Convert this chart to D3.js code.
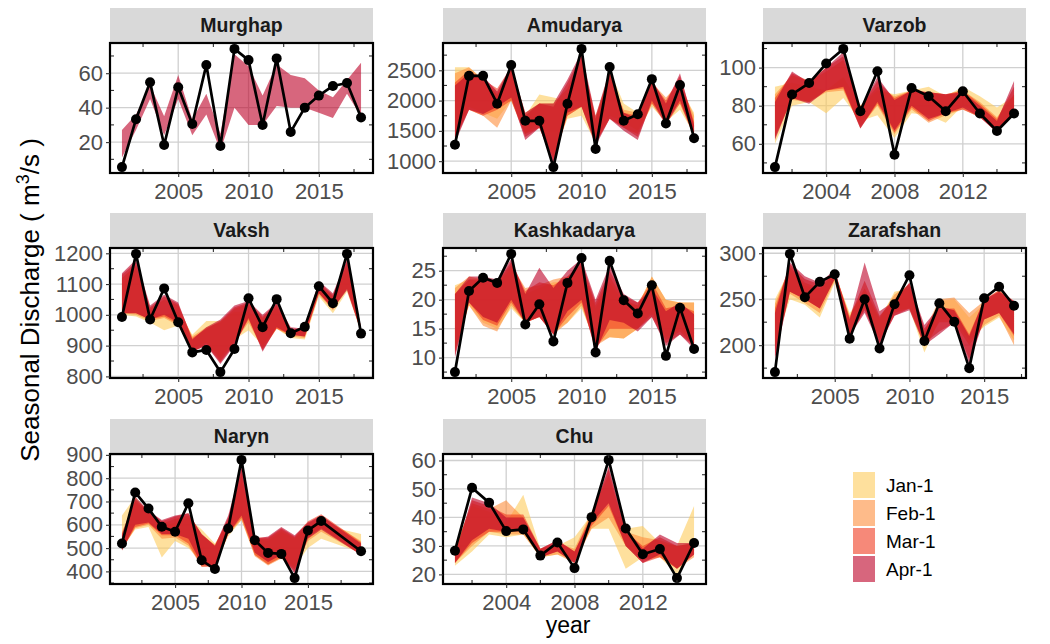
<!DOCTYPE html>
<html>
<head>
<meta charset="utf-8">
<script src="https://cdn.jsdelivr.net/npm/d3@7"></script>
<style>
  body { margin: 0; background: #fff; }
  svg { display: block; font-family: "Liberation Sans", Arial, sans-serif; }
</style>
</head>
<body>
<div id="chart"></div>
<script>
// data
var rivers = ["Murghap", "Amudarya", "Varzob", "Vaksh", "Kashkadarya", "Zarafshan", "Naryn", "Chu"];
var forecastDates = ["Jan-1", "Feb-1", "Mar-1", "Apr-1"];

var murghapYears = [2001,2002,2003,2004,2005,2006,2007,2008,2009,2010,2011,2012,2013,2014,2015,2016,2017,2018];
var murghapObs = [5.5,33.3,54.7,18.3,51.8,30.5,64.8,17.7,74.1,67.6,29.9,68.6,25.9,40,47,52.6,54.3,34.3];
var murghapApr = [[11,27],[27,36],[45,53],[24,35],[45,59],[24,33],[36,48],[15,25],[40,71],[30,64],[30,47],[41,65],[40,59],[40,57],[37,50],[34,46],[48,56],[35,66]];

var amudaryaYears = [2001,2002,2003,2004,2005,2006,2007,2008,2009,2010,2011,2012,2013,2014,2015,2016,2017,2018];
var amudaryaObs = [1271,2408,2408,1948,2587,1666,1666,902,1948,2853,1200,2555,1666,1775,2354,1623,2257,1379];
var amudaryaJan = [[1500,2550],[1900,2550],[1800,2350],[1700,2100],[2000,2500],[1450,1750],[1650,2100],[1100,2050],[1700,2000],[1750,2600],[1300,1700],[1750,2500],[1650,1950],[1500,1800],[1900,2200],[1650,1950],[1850,2200],[1450,1800]];
var amudaryaFeb = [[1400,2450],[1850,2550],[1750,2350],[1550,2100],[2000,2550],[1450,1800],[1550,1950],[1050,1950],[1750,2200],[1900,2700],[1300,1750],[1700,2450],[1550,1850],[1450,1800],[1950,2300],[1700,2050],[1950,2300],[1450,1750]];
var amudaryaMar = [[1350,2300],[1850,2500],[1750,2350],[1850,2200],[2000,2550],[1400,1750],[1550,1950],[1000,1900],[1750,2300],[1900,2750],[1300,1700],[1700,2450],[1550,1800],[1400,1750],[1950,2300],[1600,2000],[1950,2400],[1400,1650]];
var amudaryaApr = [[1300,2250],[1850,2450],[1780,2400],[1900,2150],[2050,2580],[1350,1800],[1550,1950],[950,1950],[1800,2350],[1900,2800],[1250,1750],[1700,2500],[1500,1800],[1350,1700],[2000,2350],[1600,1950],[2000,2450],[1400,1600]];

var varzobYears = [2001,2002,2003,2004,2005,2006,2007,2008,2009,2010,2011,2012,2013,2014,2015];
var varzobObs = [47.8,85.9,91.9,102.1,109.8,77.1,98.1,54.3,89.3,85,77.1,87.6,75.9,66.7,75.9];
var varzobJan = [[60,90],[80,92],[82,90],[76,88],[84,95],[72,80],[75,88],[63,86],[76,88],[75,90],[71,85],[80,90],[76,85],[68,79],[76,85]];
var varzobFeb = [[64,86],[83,96],[82,93],[87,98],[88,104],[69,80],[80,90],[65,85],[78,88],[71,87],[75,86],[78,88],[74,82],[67,74],[75,86]];
var varzobMar = [[63,84],[84,97],[82,93],[88,100],[89,106],[68,79],[81,93],[66,84],[79,88],[72,87],[76,86],[78,88],[74,81],[66,73],[76,90]];
var varzobApr = [[62,82],[84,98],[81,92],[88,100],[90,108],[68,78],[82,95],[67,83],[80,88],[73,87],[76,86],[79,87],[74,80],[66,72],[76,93]];

var vakshYears = [2001,2002,2003,2004,2005,2006,2007,2008,2009,2010,2011,2012,2013,2014,2015,2016,2017,2018];
var vakshObs = [993,1198,985,1086,976,878,886,814,889,1054,960,1051,940,961,1093,1038,1198,939];
var vakshJan = [[1000,1100],[995,1150],[975,1010],[950,1000],[965,1010],[890,935],[910,980],[860,980],[920,1010],[950,1010],[900,980],[955,1020],[925,950],[920,950],[1060,1090],[1005,1050],[1075,1150],[945,955]];
var vakshFeb = [[1005,1120],[1000,1160],[980,1020],[990,1050],[965,1030],[880,930],[905,960],[850,975],[910,1020],[975,1035],[890,990],[955,1030],[930,955],[925,950],[1065,1100],[1015,1060],[1085,1165],[945,958]];
var vakshMar = [[1005,1130],[1005,1170],[985,1025],[995,1060],[970,1035],[880,925],[900,955],[845,980],[905,1025],[985,1040],[885,995],[955,1035],[935,955],[930,950],[1070,1105],[1020,1065],[1085,1175],[945,958]];
var vakshApr = [[1005,1135],[1005,1180],[985,1030],[1000,1065],[975,1040],[880,920],[900,960],[840,985],[900,1030],[990,1045],[880,1000],[960,1040],[935,960],[930,955],[1070,1110],[1020,1070],[1080,1180],[945,960]];

var kashYears = [2001,2002,2003,2004,2005,2006,2007,2008,2009,2010,2011,2012,2013,2014,2015,2016,2017,2018];
var kashObs = [7.5,21.5,23.8,22.9,27.9,15.7,19.2,12.8,22.9,27.2,10.9,26.7,19.9,17.6,22.5,10.3,18.6,11.5];
var kashJan = [[11.5,22.5],[19,23.5],[16,23],[15,22.5],[18.5,25.5],[16,21],[17,22],[14.5,23],[16,23],[18.5,25.5],[12.5,18.5],[13.5,23],[13.3,19.5],[15,19],[18,24],[13.5,20],[15,19.5],[12.5,19.5]];
var kashFeb = [[11,22],[19,24],[15.5,23.5],[14.5,23],[19,26],[16,22],[17,22.5],[14,23.5],[16,24],[19,26],[12,19],[13.5,24],[13.3,20],[15,19],[17.5,24],[13,20],[14.5,19.5],[12,19.5]];
var kashMar = [[10.5,21],[19.5,23.5],[16.5,23.5],[15.5,23],[19.5,26.5],[16,21.5],[17,23],[14,22.5],[17,24],[19.5,26.5],[11.5,19.5],[15,25],[15,20.5],[15,19.5],[17,23],[12.5,18.5],[14,19],[12,18]];
var kashApr = [[10,21],[19.5,24],[17,24],[16,23.5],[20,27],[16,21],[17,25.5],[14,22],[18,25],[20,27],[11,20],[16.5,26],[16,21],[14.5,19.5],[17,22],[12,18],[14,19.5],[11.5,17.5]];

var zarafYears = [2001,2002,2003,2004,2005,2006,2007,2008,2009,2010,2011,2012,2013,2014,2015,2016,2017];
var zarafObs = [170.7,299.3,252.1,268.9,277.1,207.1,250,196.4,244.6,276.1,204.6,245.7,225.4,175,251,263.6,242.9];
var zarafJan = [[200,250],[250,282],[244,265],[230,260],[268,278],[214,235],[242,258],[208,228],[238,258],[240,262],[192,212],[228,248],[228,250],[205,230],[220,245],[230,258],[205,242]];
var zarafFeb = [[195,245],[256,285],[246,268],[235,262],[270,280],[212,232],[240,262],[205,230],[235,255],[240,266],[198,215],[225,250],[225,252],[200,235],[222,248],[232,260],[200,245]];
var zarafMar = [[188,240],[258,288],[250,272],[240,266],[272,280],[210,230],[238,270],[202,232],[232,250],[240,268],[202,218],[215,240],[224,240],[185,212],[228,250],[235,260],[210,248]];
var zarafApr = [[185,235],[258,290],[250,275],[240,268],[272,282],[210,228],[235,290],[200,237],[232,248],[238,268],[200,222],[212,242],[225,238],[180,210],[228,250],[235,258],[212,248]];

var narynYears = [2001,2002,2003,2004,2005,2006,2007,2008,2009,2010,2011,2012,2013,2014,2015,2016,2019];
var narynObs = [519.6,738.6,669.5,591.6,570,692.5,447.6,410,584.4,878.4,534,479.3,475,371.2,575.8,616,486.5];
var narynJan = [[500,640],[580,720],[590,650],[460,590],[530,610],[500,630],[440,580],[430,520],[550,610],[620,790],[470,540],[430,530],[460,570],[420,540],[500,590],[540,600],[480,560]];
var narynFeb = [[495,570],[585,700],[600,655],[540,605],[545,625],[510,640],[420,555],[425,515],[560,620],[620,820],[465,540],[425,540],[455,580],[410,545],[530,605],[570,635],[475,530]];
var narynMar = [[490,555],[590,710],[605,660],[555,615],[555,635],[520,650],[420,560],[420,510],[560,630],[630,840],[470,545],[430,545],[460,585],[400,550],[545,615],[585,645],[470,525]];
var narynApr = [[490,560],[600,720],[610,660],[560,620],[560,640],[540,650],[430,560],[420,510],[560,640],[640,850],[480,540],[440,550],[470,590],[390,555],[540,610],[580,640],[470,520]];

var chuYears = [2001,2002,2003,2004,2005,2006,2007,2008,2009,2010,2011,2012,2013,2014,2015];
var chuObs = [28.3,50.4,45.2,35.2,35.8,26.6,31.2,22.2,40.1,60.2,36.1,27.1,28.9,18.7,31];
var chuJan = [[23,30],[28,44],[34,42],[33,38],[34,48],[26,29],[27,30],[25,33],[36,41],[36,44],[22,36],[26,37],[26,31],[20,30],[28,44]];
var chuFeb = [[24,29],[30,45],[35,43],[34,46],[34,40],[26,29],[27,31],[24,29],[36,42],[40,55],[30,35],[25,33],[26,32],[22,30],[26,31]];
var chuMar = [[24,28],[31,46],[35,44],[35,41],[35,41],[26,29],[28,32],[24,28],[37,41],[44,57],[30,35],[24,30],[26,33],[22,30],[27,31]];
var chuApr = [[24,27],[32,47],[36,45],[35,40],[36,40],[26,29],[28,32],[24,28],[38,40],[45,58],[30,36],[24,29],[27,34],[22,31],[27,31]];

// tick labels per panel
var xTicksA = [2005, 2010, 2015];
var xTicksB = [2004, 2008, 2012];
var murghapYTicks = [20, 40, 60];
var amudaryaYTicks = [1000, 1500, 2000, 2500];
var varzobYTicks = [60, 80, 100];
var vakshYTicks = [800, 900, 1000, 1100, 1200];
var kashYTicks = [10, 15, 20, 25];
var zarafYTicks = [200, 250, 300];
var narynYTicks = [400, 500, 600, 700, 800, 900];
var chuYTicks = [20, 30, 40, 50, 60];

var panels = [
    { years: murghapYears, obs: murghapObs, bands: [null, null, null, murghapApr], xTicks: xTicksA, yTicks: murghapYTicks },
    { years: amudaryaYears, obs: amudaryaObs, bands: [amudaryaJan, amudaryaFeb, amudaryaMar, amudaryaApr], xTicks: xTicksA, yTicks: amudaryaYTicks },
    { years: varzobYears, obs: varzobObs, bands: [varzobJan, varzobFeb, varzobMar, varzobApr], xTicks: xTicksB, yTicks: varzobYTicks },
    { years: vakshYears, obs: vakshObs, bands: [vakshJan, vakshFeb, vakshMar, vakshApr], xTicks: xTicksA, yTicks: vakshYTicks },
    { years: kashYears, obs: kashObs, bands: [kashJan, kashFeb, kashMar, kashApr], xTicks: xTicksA, yTicks: kashYTicks },
    { years: zarafYears, obs: zarafObs, bands: [zarafJan, zarafFeb, zarafMar, zarafApr], xTicks: xTicksA, yTicks: zarafYTicks },
    { years: narynYears, obs: narynObs, bands: [narynJan, narynFeb, narynMar, narynApr], xTicks: xTicksA, yTicks: narynYTicks },
    { years: chuYears, obs: chuObs, bands: [chuJan, chuFeb, chuMar, chuApr], xTicks: xTicksB, yTicks: chuYTicks }
];

// YlOrRd, drawn with alpha
var bandColors = ["#fecc5c", "#fd8d3c", "#f03b20", "#bd0026"];
var bandAlpha = 0.6;

// layout
var vWidth = 1050, vHeight = 644;
var colX = [110, 443, 763], rowTop = [8, 213, 419];
var pW = 263, pH = 130, stripH = 35;

var svg = d3.select("#chart").append("svg")
    .attr("width", vWidth)
    .attr("height", vHeight);

// expand extent by 5% like ggplot
function expand(aExt) {
    var d = (aExt[1] - aExt[0]) * 0.05;
    return [aExt[0] - d, aExt[1] + d];
}

// midpoints between major breaks, inside the domain
function minorTicks(aTicks, aDomain) {
    var step = aTicks[1] - aTicks[0];
    var out = [aTicks[0] - step / 2];
    aTicks.forEach(function (t) { out.push(t + step / 2); });
    return out.filter(function (t) { return t > aDomain[0] && t < aDomain[1]; });
}

panels.forEach(function (aPanel, i) {
    var px = colX[i % 3], py = rowTop[Math.floor(i / 3)] + stripH;
    var g = svg.append("g").attr("transform", "translate(" + px + "," + py + ")");

    // strip
    g.append("rect")
        .attr("x", 0).attr("y", -stripH)
        .attr("width", pW).attr("height", stripH)
        .attr("fill", "#d9d9d9");
    g.append("text")
        .attr("x", pW / 2).attr("y", -stripH / 2)
        .attr("dy", "0.35em")
        .attr("text-anchor", "middle")
        .style("font-size", "19.5px")
        .style("font-weight", "bold")
        .attr("fill", "#1a1a1a")
        .text(rivers[i]);

    var allVals = aPanel.obs.slice();
    aPanel.bands.forEach(function (b) {
        if (b) b.forEach(function (p) { allVals.push(p[0], p[1]); });
    });

    var x = d3.scaleLinear().domain(expand(d3.extent(aPanel.years))).range([0, pW]);
    var y = d3.scaleLinear().domain(expand(d3.extent(allVals))).range([pH, 0]);

    // major grid
    g.append("g").selectAll("line.gy").data(aPanel.yTicks).enter().append("line")
        .attr("x1", 0).attr("x2", pW)
        .attr("y1", function (d) { return y(d); }).attr("y2", function (d) { return y(d); })
        .attr("stroke", "#d0d0d0").attr("stroke-width", 1.3);
    g.append("g").selectAll("line.gx").data(aPanel.xTicks).enter().append("line")
        .attr("y1", 0).attr("y2", pH)
        .attr("x1", function (d) { return x(d); }).attr("x2", function (d) { return x(d); })
        .attr("stroke", "#d0d0d0").attr("stroke-width", 1.3);

    // forecast ribbons, Jan-1 first, Apr-1 on top
    aPanel.bands.forEach(function (aBand, k) {
        if (!aBand) return;
        var vArea = d3.area()
            .x(function (d, j) { return x(aPanel.years[j]); })
            .y0(function (d) { return y(d[0]); })
            .y1(function (d) { return y(d[1]); });
        g.append("path")
            .datum(aBand)
            .attr("d", vArea)
            .attr("fill", bandColors[k])
            .attr("fill-opacity", bandAlpha);
    });

    // observed
    var vLine = d3.line()
        .x(function (d, j) { return x(aPanel.years[j]); })
        .y(function (d) { return y(d); });
    g.append("path")
        .datum(aPanel.obs)
        .attr("d", vLine)
        .attr("fill", "none")
        .attr("stroke", "#000")
        .attr("stroke-width", 2.7)
        .attr("stroke-linejoin", "round");
    g.selectAll("circle").data(aPanel.obs).enter().append("circle")
        .attr("cx", function (d, j) { return x(aPanel.years[j]); })
        .attr("cy", function (d) { return y(d); })
        .attr("r", 5)
        .attr("fill", "#000");

    // minor ticks pointing inward
    var xm = minorTicks(aPanel.xTicks, x.domain()), ym = minorTicks(aPanel.yTicks, y.domain());
    var minor = g.append("g").attr("stroke", "#333").attr("stroke-width", 1.1);
    xm.forEach(function (t) {
        minor.append("line").attr("x1", x(t)).attr("x2", x(t)).attr("y1", pH).attr("y2", pH - 4);
        minor.append("line").attr("x1", x(t)).attr("x2", x(t)).attr("y1", 0).attr("y2", 4);
    });
    ym.forEach(function (t) {
        minor.append("line").attr("y1", y(t)).attr("y2", y(t)).attr("x1", 0).attr("x2", 4);
        minor.append("line").attr("y1", y(t)).attr("y2", y(t)).attr("x1", pW).attr("x2", pW - 4);
    });

    // panel border
    g.append("rect")
        .attr("width", pW).attr("height", pH)
        .attr("fill", "none")
        .attr("stroke", "#000")
        .attr("stroke-width", 2.2);

    // axes
    var ax = g.append("g")
        .attr("transform", "translate(0," + pH + ")")
        .call(d3.axisBottom(x).tickValues(aPanel.xTicks).tickFormat(d3.format("d")).tickSize(4).tickPadding(6));
    var ay = g.append("g")
        .call(d3.axisLeft(y).tickValues(aPanel.yTicks).tickFormat(d3.format("d")).tickSize(4).tickPadding(3));
    [ax, ay].forEach(function (a) {
        a.select(".domain").remove();
        a.selectAll(".tick line").attr("stroke", "#333").attr("stroke-width", 1.1);
        a.selectAll(".tick text")
            .attr("fill", "#4d4d4d")
            .style("font-size", "22px")
            .style("font-family", "'Liberation Sans', Arial, sans-serif");
    });
});

// axis titles
var yTitle = svg.append("text")
    .attr("transform", "translate(39,300) rotate(-90)")
    .attr("text-anchor", "middle")
    .style("font-size", "26px")
    .attr("fill", "#000");
yTitle.append("tspan").text("Seasonal Discharge ( m");
yTitle.append("tspan").attr("dy", -10).style("font-size", "18px").text("3");
yTitle.append("tspan").attr("dy", 10).text("/s )");

svg.append("text")
    .attr("x", 568).attr("y", 633)
    .attr("text-anchor", "middle")
    .style("font-size", "23px")
    .attr("fill", "#000")
    .text("year");

// legend
var legend = svg.append("g").attr("transform", "translate(853,472)");
forecastDates.forEach(function (aName, k) {
    legend.append("rect")
        .attr("x", 0).attr("y", k * 28)
        .attr("width", 22).attr("height", 26)
        .attr("fill", bandColors[k])
        .attr("fill-opacity", bandAlpha);
    legend.append("text")
        .attr("x", 33).attr("y", k * 28 + 13)
        .attr("dy", "0.35em")
        .style("font-size", "19px")
        .attr("fill", "#000")
        .text(aName);
});
</script>
</body>
</html>
